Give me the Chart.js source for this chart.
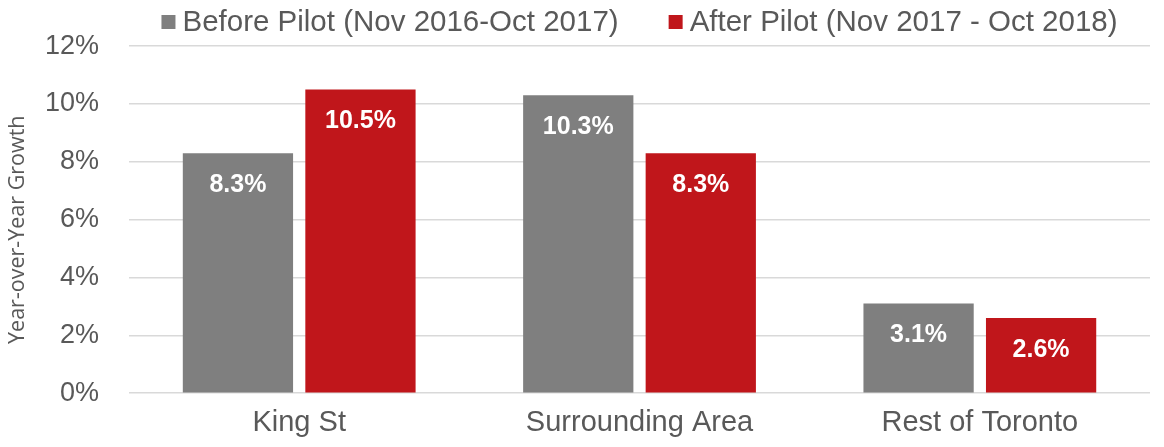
<!DOCTYPE html>
<html>
<head>
<meta charset="utf-8">
<script src="https://cdn.jsdelivr.net/npm/chart.js@4"></script>
<style>
  html, body { margin: 0; padding: 0; background: #fff; }
  #wrap { width: 1164px; height: 447px; position: relative; }
</style>
</head>
<body>
<div id="wrap"><canvas id="growthChart"></canvas></div>
<script>
// Chart data
const categories = ['King St', 'Surrounding Area', 'Rest of Toronto'];
const beforeLabel = 'Before Pilot (Nov 2016-Oct 2017)';
const afterLabel = 'After Pilot (Nov 2017 - Oct 2018)';
const beforeValues = [8.3, 10.3, 3.1];
const afterValues = [10.5, 8.3, 2.6];
const yTicks = [0, 2, 4, 6, 8, 10, 12];
const yTitle = 'Year-over-Year Growth';

const textGrey = '#595959';
const fontFamily = '"Liberation Sans", Arial, sans-serif';

// White value labels just inside the top of each bar
const barLabels = {
    id: 'barLabels',
    afterDatasetsDraw(chart) {
        const ctx = chart.ctx;
        ctx.save();
        ctx.fillStyle = '#ffffff';
        ctx.font = 'bold 25px ' + fontFamily;
        ctx.textAlign = 'center';
        ctx.textBaseline = 'middle';
        chart.data.datasets.forEach((ds, i) => {
            chart.getDatasetMeta(i).data.forEach((bar, j) => {
                ctx.fillText(ds.data[j].toFixed(1) + '%', bar.x, bar.y + 32);
            });
        });
        ctx.restore();
    }
};

// Legend and y title drawn by hand so spacing can match the original
const extras = {
    id: 'extras',
    afterDraw(chart) {
        const ctx = chart.ctx;
        const area = chart.chartArea;
        const box = 14, gap = 7, spacing = 50, y = 22;
        ctx.save();
        ctx.font = '29.5px ' + fontFamily;
        ctx.textBaseline = 'middle';
        const items = chart.data.datasets.map(ds => ({
            text: ds.label,
            color: ds.backgroundColor,
            w: ctx.measureText(ds.label).width
        }));
        const total = items.reduce((s, it) => s + box + gap + it.w, 0) + spacing * (items.length - 1);
        let x = (area.left + area.right) / 2 - total / 2;
        items.forEach(it => {
            ctx.fillStyle = it.color;
            ctx.fillRect(x, y - box / 2, box, box);
            ctx.fillStyle = textGrey;
            ctx.fillText(it.text, x + box + gap, y + 1);
            x += box + gap + it.w + spacing;
        });

        // rotated y axis title
        ctx.translate(18, (area.top + area.bottom) / 2 + 10);
        ctx.rotate(-Math.PI / 2);
        ctx.textAlign = 'center';
        ctx.font = '21.5px "Open Sans", sans-serif';
        ctx.fillText(yTitle, 0, 0);
        ctx.restore();
    }
};

const ctx = document.getElementById('growthChart').getContext('2d');
new Chart(ctx, {
    type: 'bar',
    data: {
        labels: categories,
        datasets: [
            {
                label: beforeLabel,
                data: beforeValues,
                backgroundColor: '#7f7f7f',
                categoryPercentage: 0.72,
                barPercentage: 0.9
            },
            {
                label: afterLabel,
                data: afterValues,
                backgroundColor: '#c0161b',
                categoryPercentage: 0.72,
                barPercentage: 0.9
            }
        ]
    },
    options: {
        responsive: true,
        maintainAspectRatio: false,
        animation: false,
        layout: { padding: { left: 15, right: 14, top: 39, bottom: 3 } },
        plugins: {
            legend: { display: false },
            tooltip: { enabled: false }
        },
        scales: {
            x: {
                grid: { display: false },
                border: { display: false },
                ticks: {
                    color: textGrey,
                    font: { family: fontFamily, size: 29 },
                    padding: 4
                }
            },
            y: {
                min: 0,
                max: 12,
                afterBuildTicks: (axis) => { axis.ticks = yTicks.map(v => ({ value: v })); },
                grid: { color: '#d9d9d9', lineWidth: 1.5, drawTicks: false },
                border: { display: false },
                ticks: {
                    color: textGrey,
                    font: { family: fontFamily, size: 27 },
                    padding: 30,
                    callback: (v) => v + '%'
                }
            }
        }
    },
    plugins: [barLabels, extras]
});
</script>
</body>
</html>
